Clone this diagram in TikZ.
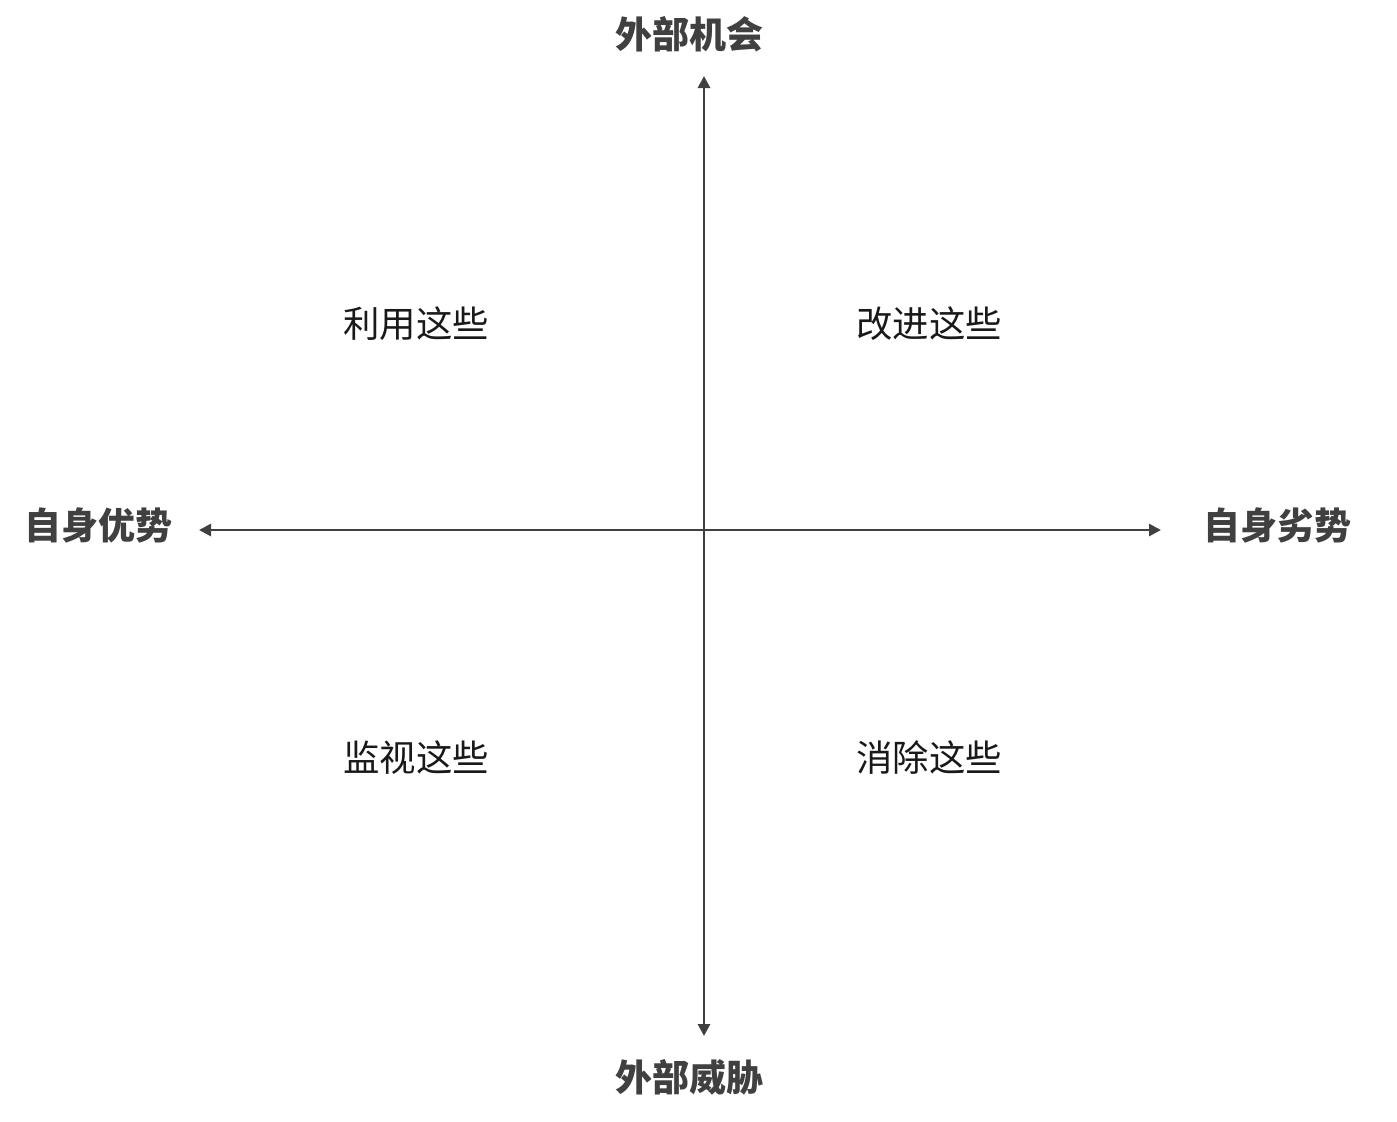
\documentclass[tikz,border=0pt]{standalone}
\usepackage{fontspec}
\usepackage{tikz}
\usetikzlibrary{arrows.meta,positioning,calc}
\newfontfamily\cjk{Noto Sans CJK SC}
\definecolor{axisgray}{HTML}{404040}
\tikzset{
  swaxis/.style={-{Triangle[length=6pt,width=6pt]}, line width=1.4pt, draw=axisgray},
  swlabel/.style={font=\cjk\bfseries\fontsize{18.5}{20}\selectfont, text=axisgray, inner sep=0pt},
  swquad/.style={font=\cjk\fontsize{18.2}{20}\selectfont, text=black!90, inner sep=0pt},
}

\begin{document}
\begin{tikzpicture}[x=0.5pt, y=-0.5pt]
  \useasboundingbox (0,0) rectangle (1397,1121);
  \coordinate (o) at (704,530);
  \coordinate (top) at (704,76);
  \coordinate (bot) at (704,1036);
  \coordinate (lft) at (199,530);
  \coordinate (rgt) at (1161,530);

  \node[swlabel] (opp) at (689,34) {外部机会};
  \node[swlabel] (thr) at (689,1077) {外部威胁};
  \node[swlabel] (str) at (99,525) {自身优势};
  \node[swlabel] (wea) at (1277,525) {自身劣势};

  \node[swquad] (so) at (416,324) {利用这些};
  \node[swquad] (wo) at (929,324) {改进这些};
  \node[swquad] (st) at (416,758) {监视这些};
  \node[swquad] (wt) at (929,758) {消除这些};

  \draw[swaxis] (o) -- (top);
  \draw[swaxis] (o) -- (bot);
  \draw[swaxis] (o) -- (lft);
  \draw[swaxis] (o) -- (rgt);
\end{tikzpicture}
\end{document}
